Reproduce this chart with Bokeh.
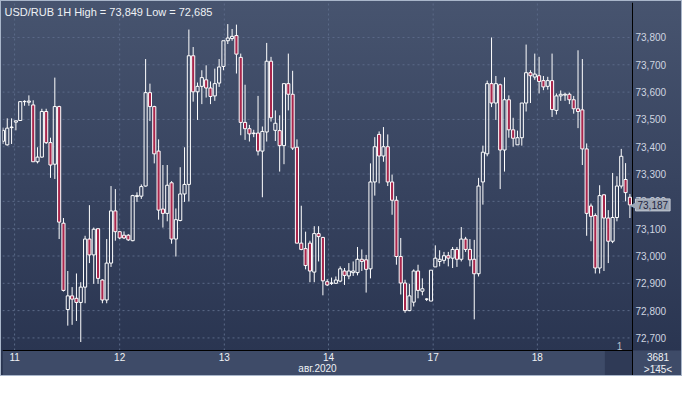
import numpy as np
from bokeh.plotting import figure
from bokeh.models import (FixedTicker, CustomJSTickFormatter, Label, ColumnDataSource,
                          Range1d, BoxAnnotation)
from bokeh.embed import file_html
from bokeh.resources import INLINE

# ---- data (hourly USD/RUB candles) ----
opens = [73.42, 73.407, 73.47, 73.49, 73.496, 73.565, 73.563, 73.553, 73.345, 73.362,
         73.529, 73.415, 73.336, 73.547, 73.12, 72.804, 72.854, 72.845, 72.83, 72.886,
         73.062, 73.004, 73.1, 72.912, 72.839, 72.974, 73.165, 73.089, 73.076, 73.076,
         73.056, 73.218, 73.219, 73.256, 73.598, 73.547, 73.384, 73.172, 73.156, 73.268,
         73.062, 73.13, 73.227, 73.262, 73.733, 73.601, 73.621, 73.645, 73.615, 73.586,
         73.633, 73.694, 73.788, 73.796, 73.807, 73.727, 73.489, 73.466, 73.448, 73.45,
         73.384, 73.454, 73.713, 73.46, 73.459, 73.404, 73.631, 73.592, 73.398, 73.047,
         73.027, 73.047, 72.941, 73.082, 73.068, 72.906, 72.9, 72.9, 72.908, 72.945,
         72.927, 72.939, 72.939, 72.988, 72.986, 72.953, 73.271, 73.445, 73.366, 73.4,
         73.271, 73.204, 72.998, 72.901, 72.8, 72.831, 72.945, 72.871, 72.842, 72.835,
         72.96, 72.98, 72.984, 73.001, 72.992, 73.024, 72.988, 73.062, 73.024, 72.988,
         72.935, 73.271, 73.374, 73.631, 73.56, 73.627, 73.388, 73.572, 73.462, 73.407,
         73.433, 73.56, 73.671, 73.655, 73.66, 73.642, 73.621, 73.642, 73.533, 73.586,
         73.589, 73.592, 73.572, 73.539, 73.535, 73.392, 73.183, 73.148, 72.956, 73.224,
         73.139, 73.054, 73.141, 73.256, 73.28, 73.215]
highs = [73.47, 73.504, 73.504, 73.495, 73.567, 73.57, 73.588, 73.57, 73.398, 73.539,
         73.539, 73.433, 73.653, 73.55, 73.139, 72.945, 72.886, 72.936, 72.904, 73.074,
         73.186, 73.104, 73.1, 72.915, 73.062, 73.256, 73.245, 73.09, 73.09, 73.08,
         73.224, 73.233, 73.262, 73.721, 73.631, 73.55, 73.427, 73.333, 73.333, 73.274,
         73.174, 73.325, 73.398, 73.829, 73.765, 73.635, 73.68, 73.698, 73.639, 73.686,
         73.721, 73.788, 73.849, 73.831, 73.847, 73.741, 73.627, 73.48, 73.462, 73.586,
         73.474, 73.78, 73.729, 73.533, 73.515, 73.631, 73.741, 73.678, 73.427, 73.184,
         73.089, 73.056, 73.109, 73.109, 73.07, 72.915, 72.921, 72.925, 72.962, 72.956,
         72.974, 72.98, 73.033, 73.024, 73.004, 73.339, 73.435, 73.456, 73.472, 73.445,
         73.298, 73.219, 73.066, 72.913, 72.898, 72.951, 72.968, 72.918, 72.845, 72.948,
         73.039, 73.021, 73.015, 73.015, 73.033, 73.033, 73.106, 73.07, 73.062, 73.059,
         73.286, 73.404, 73.642, 73.8, 73.659, 73.631, 73.654, 73.588, 73.506, 73.459,
         73.56, 73.774, 73.68, 73.741, 73.729, 73.659, 73.656, 73.741, 73.595, 73.606,
         73.598, 73.598, 73.586, 73.753, 73.721, 73.412, 73.192, 73.156, 73.259, 73.227,
         73.168, 73.304, 73.292, 73.392, 73.34, 73.227]
lows = [73.41, 73.404, 73.41, 73.46, 73.495, 73.55, 73.55, 73.345, 73.339, 73.36,
        73.41, 73.286, 73.282, 73.062, 72.87, 72.745, 72.748, 72.762, 72.685, 72.827,
        72.974, 72.898, 72.898, 72.827, 72.827, 72.96, 73.056, 73.062, 73.062, 73.055,
        73.054, 73.198, 73.209, 73.254, 73.494, 73.339, 73.133, 73.104, 73.127, 73.045,
        72.998, 73.127, 73.198, 73.2, 73.565, 73.498, 73.556, 73.58, 73.556, 73.568,
        73.619, 73.68, 73.776, 73.788, 73.668, 73.442, 73.425, 73.419, 73.435, 73.368,
        73.215, 73.419, 73.492, 73.421, 73.309, 73.336, 73.533, 73.388, 73.047, 73.021,
        72.951, 72.904, 72.904, 72.98, 72.856, 72.89, 72.894, 72.898, 72.904, 72.894,
        72.915, 72.927, 72.929, 72.945, 72.866, 72.918, 73.221, 73.266, 73.345, 73.256,
        73.151, 72.968, 72.859, 72.792, 72.798, 72.815, 72.845, 72.856, 72.835, 72.835,
        72.96, 72.962, 72.972, 72.962, 72.956, 72.96, 72.98, 73.015, 72.962, 72.768,
        72.925, 73.188, 73.365, 73.545, 73.498, 73.245, 73.309, 73.433, 73.4, 73.407,
        73.404, 73.529, 73.56, 73.645, 73.595, 73.607, 73.609, 73.509, 73.518, 73.568,
        73.568, 73.556, 73.521, 73.468, 73.333, 73.074, 73.054, 72.936, 72.936, 72.945,
        72.974, 73.047, 73.127, 73.247, 73.2, 73.139]
closes = [73.46, 73.468, 73.472, 73.495, 73.565, 73.566, 73.567, 73.345, 73.362, 73.529,
          73.415, 73.333, 73.547, 73.124, 72.874, 72.854, 72.842, 72.83, 72.886, 73.062,
          73.004, 73.098, 72.918, 72.839, 72.974, 73.165, 73.089, 73.066, 73.066, 73.059,
          73.221, 73.221, 73.254, 73.598, 73.547, 73.374, 73.168, 73.156, 73.259, 73.062,
          73.133, 73.227, 73.262, 73.733, 73.601, 73.621, 73.653, 73.615, 73.584, 73.631,
          73.692, 73.788, 73.798, 73.804, 73.739, 73.489, 73.466, 73.447, 73.45, 73.384,
          73.456, 73.713, 73.506, 73.486, 73.404, 73.631, 73.592, 73.395, 73.047, 73.024,
          72.965, 72.945, 73.082, 73.071, 72.909, 72.894, 72.901, 72.912, 72.953, 72.929,
          72.945, 72.945, 72.988, 72.98, 72.951, 73.271, 73.4, 73.366, 73.4, 73.271,
          73.204, 72.998, 72.901, 72.8, 72.854, 72.945, 72.874, 72.88, 72.842, 72.948,
          72.992, 72.988, 73.001, 72.992, 73.024, 72.988, 73.062, 73.024, 72.986, 72.935,
          73.256, 73.38, 73.631, 73.56, 73.631, 73.388, 73.572, 73.462, 73.431, 73.433,
          73.56, 73.671, 73.66, 73.666, 73.639, 73.619, 73.642, 73.536, 73.586, 73.592,
          73.592, 73.572, 73.539, 73.529, 73.392, 73.156, 73.145, 72.956, 73.221, 73.139,
          73.054, 73.141, 73.256, 73.365, 73.232, 73.187]

day_tick_index = [2.7, 27.0, 51.2, 75.3, 99.5, 123.6]
day_labels = ["11", "12", "13", "14", "17", "18"]
price_ticks = [72.7, 72.8, 72.9, 73.0, 73.1, 73.2, 73.3, 73.4, 73.5, 73.6, 73.7, 73.8]
title_text = "USD/RUB 1H High = 73,849 Low = 72,685"
month_label = "авг.2020"
last_price_text = "73,187"
bars_total = "3681"
bars_visible = ">145<"
marker_text = "1"
marker_index = 142.6
scroll_thumb_index = 139.2

# ---- layout constants (pixels) ----
W, H = 682, 376
PAD_L, PAD_T = 1, 1
RIGHT_W, BOTTOM_H = 51, 27
plot_w = W - PAD_L - RIGHT_W
plot_h = H - PAD_T - BOTTOM_H

# visible candle window
x0, x1 = -0.1, 145.6
y0, y1 = 72.654, 73.928
ux = (x1 - x0) / plot_w
uy = (y1 - y0) / plot_h
x_full_end = x1 + RIGHT_W * ux
y_full_start = y0 - BOTTOM_H * uy

# ---- derived series ----
o = np.array(opens); h = np.array(highs); l = np.array(lows); c = np.array(closes)
idx = np.arange(len(o))
top = np.maximum(o, c); bot = np.minimum(o, c)
up = c >= o
src_up = ColumnDataSource(dict(x=idx[up], top=top[up], bot=bot[up], h=h[up], l=l[up]))
src_dn = ColumnDataSource(dict(x=idx[~up], top=top[~up], bot=bot[~up], h=h[~up], l=l[~up]))

FONT = "Liberation Sans"
TXT = "#cfd5e0"
WHITE_TXT = "#eef1f5"
GRID = "#5b6a88"

p = figure(width=W, height=H, output_backend="svg", toolbar_location=None,
           x_range=Range1d(x0, x_full_end), y_range=Range1d(y_full_start, y1),
           y_axis_location="right", x_axis_location="below",
           min_border_left=PAD_L, min_border_top=PAD_T, min_border_right=0, min_border_bottom=0,
           background_fill_alpha=0, border_fill_alpha=0, outline_line_color=None,
           styles={"background": "linear-gradient(to bottom, #47546f 0%, #37435f 50%, #28334f 100%)",
                   "border": "1px solid #a9b6ca"})
p.xgrid.visible = False
p.ygrid.visible = False

# bottom panel
p.add_layout(BoxAnnotation(top=y0, fill_color="#3e4b68", fill_alpha=1, line_color=None,
                           level="underlay"))
p.add_layout(BoxAnnotation(top=y0, left=scroll_thumb_index, right=x1, fill_color="#2f3a56",
                           fill_alpha=1, line_color=None, level="underlay"))

# dashed grid
p.segment(x0=[x0] * len(price_ticks), x1=[x1] * len(price_ticks), y0=price_ticks, y1=price_ticks,
          line_color=GRID, line_dash="2 3", line_width=1)
p.segment(x0=day_tick_index, x1=day_tick_index, y0=[y0] * len(day_tick_index),
          y1=[y1] * len(day_tick_index), line_color=GRID, line_dash="2 3", line_width=1)

# axes pinned to the edges of the candle window
xa = p.xaxis[0]
xa.fixed_location = y0
xa.bounds = (x0, x1)
xa.ticker = FixedTicker(ticks=day_tick_index)
xa.major_label_overrides = {t: s for t, s in zip(day_tick_index, day_labels)}
xa.major_tick_in = 0
xa.major_tick_out = 0
xa.minor_tick_in = 0
xa.minor_tick_out = 0
xa.axis_line_color = "black"
xa.major_label_standoff = 2
xa.major_label_text_color = WHITE_TXT
xa.major_label_text_font = FONT
xa.major_label_text_font_size = "10px"
xa.axis_label = month_label
xa.axis_label_standoff = -1
xa.axis_label_text_font_style = "normal"
xa.axis_label_text_font = FONT
xa.axis_label_text_font_size = "10px"
xa.axis_label_text_color = WHITE_TXT

ya = p.yaxis[0]
ya.fixed_location = x1
ya.ticker = FixedTicker(ticks=price_ticks)
ya.formatter = CustomJSTickFormatter(code="return tick.toFixed(3).replace('.', ',');")
ya.major_tick_in = 0
ya.major_tick_out = 0
ya.minor_tick_in = 0
ya.minor_tick_out = 0
ya.axis_line_color = "black"
ya.major_label_standoff = 3
ya.major_label_text_color = TXT
ya.major_label_text_font = FONT
ya.major_label_text_font_size = "10px"

# candles
for src, fill, alpha in ((src_up, "#000000", 0.0), (src_dn, "#a8264c", 1.0)):
    p.segment(x0="x", x1="x", y0="top", y1="h", source=src, line_color="white", line_width=1)
    p.segment(x0="x", x1="x", y0="l", y1="bot", source=src, line_color="white", line_width=1)
    p.vbar(x="x", top="top", bottom="bot", width=0.72, source=src,
           fill_color=fill, fill_alpha=alpha, line_color="white", line_width=1)

# texts
p.add_layout(Label(x=x0, y=y1, x_offset=2, y_offset=-3, text=title_text,
                   text_baseline="top", text_color=WHITE_TXT, text_font=FONT,
                   text_font_size="11px"))
p.add_layout(Label(x=x1, y=float(c[-1]), x_offset=3, text=last_price_text, text_baseline="middle",
                   text_color="#1e2740", text_font=FONT, text_font_size="10px",
                   background_fill_color="#9ea6b4", border_line_color="#c3c9d3",
                   padding=2))
p.add_layout(Label(x=x1, y=float(c[-1]), x_offset=-3, text="◀", text_baseline="middle",
                   text_color="#9ea6b4", text_font="DejaVu Sans", text_font_size="9px"))
p.add_layout(Label(x=x1, y=y0, x_offset=RIGHT_W / 2, y_offset=-2, text=bars_total,
                   text_align="center", text_baseline="top", text_color=WHITE_TXT,
                   text_font=FONT, text_font_size="10px"))
p.add_layout(Label(x=x1, y=y0, x_offset=RIGHT_W / 2, y_offset=-10, text="\u2014\u2014",
                   text_align="center", text_baseline="top", text_color="#9aa4b6",
                   text_font=FONT, text_font_size="7px"))
p.add_layout(Label(x=x1, y=y0, x_offset=RIGHT_W / 2, y_offset=-13, text=bars_visible,
                   text_align="center", text_baseline="top", text_color=WHITE_TXT,
                   text_font=FONT, text_font_size="10px"))
p.add_layout(Label(x=marker_index, y=y0, y_offset=1, text=marker_text, text_align="center",
                   text_baseline="bottom", text_color="#b8c0cc", text_font=FONT,
                   text_font_size="10px"))

open("out.html", "w").write(file_html(p, INLINE))
